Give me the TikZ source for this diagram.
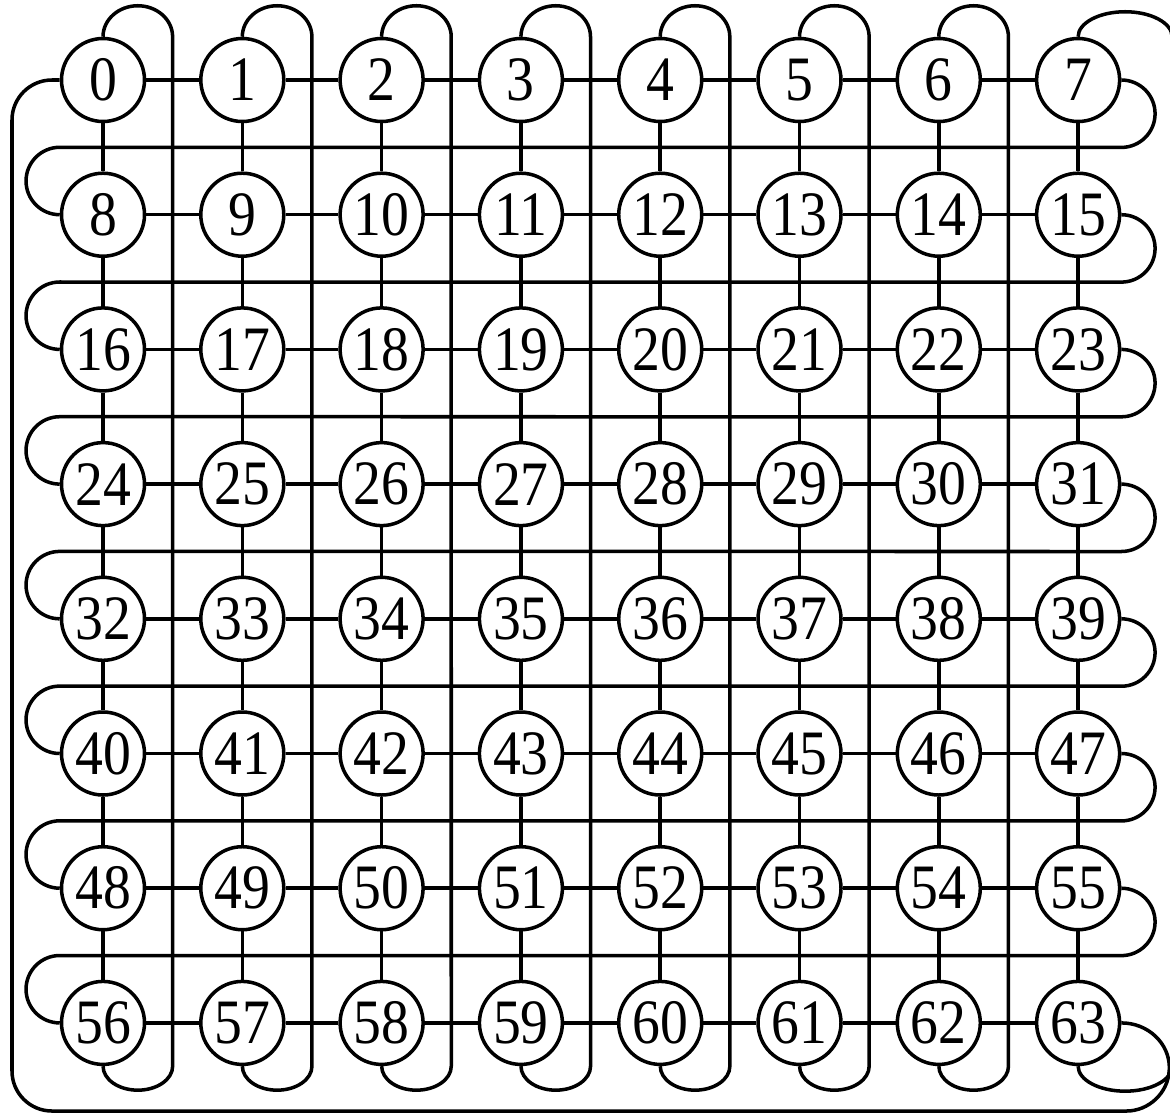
\documentclass[tikz,border=0pt]{standalone}
\usepackage{fontspec}
\newfontfamily\pefont[FakeStretch=0.88]{Liberation Serif}
\usetikzlibrary{calc}

\tikzset{
  pe/.style={draw, circle, line width=1pt, fill=white, minimum size=8.3mm, inner sep=0pt,
    font=\pefont\fontsize{18}{18}\selectfont},
  link/.style={line width=1pt, line join=round},
}

\begin{document}
\begin{tikzpicture}
  \useasboundingbox (0,0) rectangle (11.70,-11.17);
  \clip (0,0) rectangle (11.70,-11.17);
  \def\dx{1.393} \def\dy{1.347}
  \foreach \r in {0,...,7}
    \foreach \c in {0,...,7}{
      \pgfmathtruncatemacro{\n}{8*\r+\c}
      \node[pe] (pe\n) at ({1.03+\c*\dx},{-0.80-\r*\dy}) {\n};
    }
  % mesh
  \foreach \r in {0,...,7}
    \foreach \c in {0,...,6}{
      \pgfmathtruncatemacro{\a}{8*\r+\c} \pgfmathtruncatemacro{\b}{\a+1}
      \draw[link] (pe\a) -- (pe\b);
    }
  \foreach \a in {0,...,55}{
    \pgfmathtruncatemacro{\b}{\a+8}
    \draw[link] (pe\a) -- (pe\b);
  }
  % end of a row to start of the next
  \foreach \r in {0,...,6}{
    \pgfmathtruncatemacro{\a}{8*\r+7} \pgfmathtruncatemacro{\b}{\a+1}
    \draw[link] (pe\a.east) arc[start angle=90, end angle=-90, radius=0.337]
      -- ([yshift=0.674cm]pe\b.west) arc[start angle=90, end angle=270, radius=0.337];
  }
  % bottom of a column to its top
  \foreach \c in {0,...,6}{
    \pgfmathtruncatemacro{\b}{56+\c}
    \draw[link] (pe\c.north) arc[start angle=180, end angle=0, x radius=0.348, y radius=0.31]
      -- ([xshift=0.6965cm]pe\b.south) arc[start angle=0, end angle=-180, x radius=0.348, y radius=0.24];
  }
  \draw[link] (pe7.north) arc[start angle=180, end angle=0, x radius=0.47, y radius=0.25]
    -- ([xshift=0.94cm]pe63.south) arc[start angle=0, end angle=-180, x radius=0.47, y radius=0.25];
  % 63 back to 0
  \coordinate (se) at (11.665,-11.11);
  \coordinate (sw) at (0.12,-11.11);
  \draw[link] (pe63.east) arc[start angle=90, end angle=0, x radius=0.48, y radius=0.45]
    [rounded corners=4mm] -- (se) -- (sw) -- (sw |- pe0.west) -- (pe0.west);
\end{tikzpicture}
\end{document}
